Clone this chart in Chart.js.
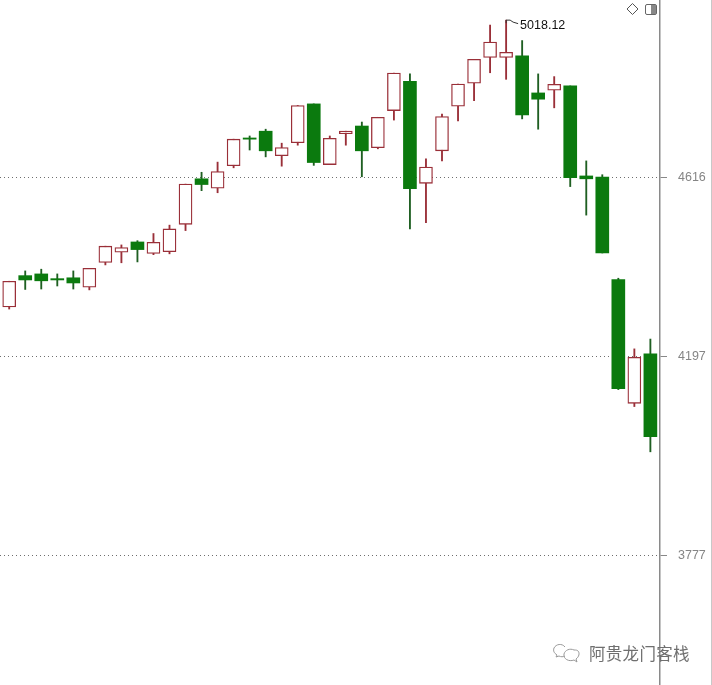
<!DOCTYPE html>
<html><head><meta charset="utf-8">
<style>
html,body{margin:0;padding:0;background:#fff;width:712px;height:685px;overflow:hidden}
#wrap{position:relative;width:712px;height:685px}
canvas{position:absolute;left:0;top:0}
#mark{position:absolute;left:589px;top:642px;font:16.5px/22px "Noto Sans CJK SC",sans-serif;color:#6f6f6f;white-space:nowrap;letter-spacing:.3px}
svg{position:absolute;left:0;top:0}
#edge{position:absolute;left:711px;top:0;width:1px;height:685px;background:#c8c8c8}
</style></head><body>
<div id="wrap">
<canvas id="c" width="712" height="685"></canvas>
<svg width="712" height="685" fill="none">
<path d="M632.5 3.5l5.5 5.5-5.5 5.5-5.5-5.5z" stroke="#555"/>
<rect x="645.5" y="4.5" width="11" height="10" rx="1.5" stroke="#666" fill="#fff"/>
<rect x="651" y="5" width="5" height="9" fill="#888"/>
<path d="M565 647c-3-4-9-3-11 1-1 3 0 5 3 7l-1 2 3-1c2 1 4 1 6 0" stroke="#999"/>
<path d="M574 650c-4-2-9 0-10 4-1 5 5 8 10 6l3 2-1-3c3-2 4-6 2-8-1-1-2-1-4-1z" stroke="#999"/>
</svg>
<div id="mark">阿贵龙门客栈</div>
<div id="edge"></div>
</div>
<script src="https://cdn.jsdelivr.net/npm/chart.js@4/dist/chart.umd.min.js"></script>
<script>
const sessions=[1,2,3,4,5,6,7,8,9,10,11,12,13,14,15,16,17,18,19,20,21,22,23,24,25,26,27,28,29,30,31,32,33,34,35,36,37,38,39,40,41];
const opens=[4310,4382,4386,4375,4377,4355,4413,4437,4461,4434,4438,4503,4613,4590,4645,4714,4731,4670,4702,4800,4648,4725,4744,4690,4783,4858,4602,4682,4794,4853,4920,4920,4924,4828,4835,4846,4620,4617,4373,4095,4204];
const closes=[4369,4372,4370,4372,4365,4399,4451,4448,4443,4460,4492,4600,4599,4631,4711,4711,4682,4690,4796,4653,4713,4731,4682,4766,4879,4589,4642,4768,4851,4915,4960,4933,4772,4812,4850,4616,4613,4435,4127,4196,4023];
const highs=[4369,4393,4397,4386,4393,4399,4451,4454,4464,4481,4501,4600,4629,4654,4711,4719,4736,4701,4796,4800,4719,4731,4754,4766,4879,4877,4662,4774,4851,4915,5005,5018.12,4964,4877,4870,4846,4657,4623,4376,4215,4237];
const lows=[4305,4350,4351,4358,4351,4349,4407,4412,4414,4431,4433,4488,4584,4579,4640,4684,4667,4644,4696,4646,4648,4696,4618,4687,4759,4492,4507,4657,4757,4808,4880,4863,4762,4736,4790,4594,4525,4435,4125,4088,3991];
const yTicks=[3777,4197,4616];
const peakLabel="5018.12";

const isUp=i=>closes[i]>=opens[i];
const body=up=>opens.map((o,i)=>isUp(i)===up?[Math.min(o,closes[i]),Math.max(o,closes[i])]:null);
const wick=up=>lows.map((l,i)=>isUp(i)===up?[l,highs[i]]:null);
const RED="#9a2f38",GREEN="#0b7a0e";

const peakPlugin={id:'peak',afterDatasetsDraw(chart){
  const {ctx,scales:{x,y}}=chart;
  const i=highs.indexOf(Math.max(...highs));
  const px=x.getPixelForValue(sessions[i]),py=y.getPixelForValue(highs[i]);
  ctx.save();
  ctx.strokeStyle="#333";ctx.lineWidth=1;
  ctx.beginPath();ctx.moveTo(px,py+3);ctx.lineTo(px,py);ctx.lineTo(px+4,py);
  ctx.lineTo(px+7,py+2);ctx.lineTo(px+12,py+3.5);ctx.stroke();
  ctx.fillStyle="#111";ctx.font='12.5px "Liberation Sans",sans-serif';
  ctx.textBaseline="middle";ctx.textAlign="left";
  ctx.fillText(peakLabel,px+14,py+5);
  ctx.restore();
}};

new Chart(document.getElementById('c'),{
  type:'bar',
  data:{labels:sessions,datasets:[
    {data:body(true),backgroundColor:"#fff",borderColor:RED,borderWidth:1.3,borderSkipped:false,barThickness:13,grouped:false},
    {data:body(false),backgroundColor:GREEN,borderColor:GREEN,borderWidth:0,borderSkipped:false,barThickness:13,grouped:false},
    {data:wick(true),backgroundColor:RED,borderWidth:0,barThickness:1.2,grouped:false},
    {data:wick(false),backgroundColor:"#1f5f22",borderWidth:0,barThickness:1.2,grouped:false}
  ]},
  plugins:[peakPlugin],
  options:{
    responsive:false,animation:false,
    layout:{padding:0,autoPadding:false},
    plugins:{legend:{display:false},tooltip:{enabled:false},title:{display:false}},
    scales:{
      x:{type:'linear',display:false,offset:false,min:0.426,max:41.6},
      y:{type:'logarithmic',position:'right',min:3526.6,max:5072,
        afterBuildTicks(s){s.ticks=yTicks.map(v=>({value:v}));},
        afterFit(s){s.width=52;s.paddingTop=0;s.paddingBottom=0;},
        grid:{color:"#6e6e6e",tickColor:"#888",tickBorderDash:[],tickLength:7,lineWidth:1,drawTicks:true},
        border:{display:true,color:"#8a8a8a",width:1.5,dash:[1,3]},
        ticks:{autoSkip:false,maxRotation:0,padding:11,color:"#858585",
          font:{family:'"Liberation Sans",sans-serif',size:12.5},
          callback:v=>String(v)}
      }
    }
  }
});
</script>
</body></html>
